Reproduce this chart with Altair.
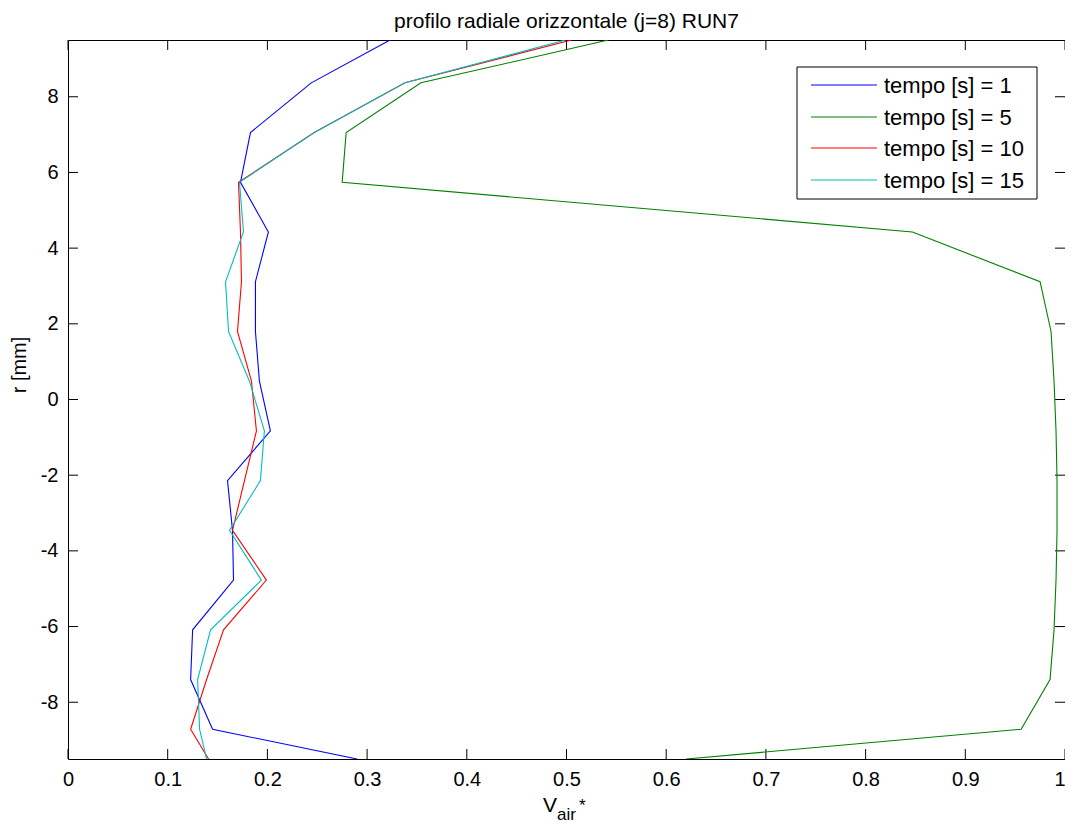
import altair as alt
import pandas as pd

# radial positions (mm) of the profile points (first/last = where lines meet the axes box)
r_levels = [9.5, 8.368, 7.054, 5.74, 4.426, 3.112, 1.798, 0.484, -0.83, -2.144,
            -3.458, -4.772, -6.086, -7.4, -8.714, -9.5]

v_t1 = [0.323, 0.244, 0.183, 0.173, 0.201, 0.188, 0.188, 0.192, 0.203, 0.160,
        0.165, 0.166, 0.125, 0.123, 0.145, 0.290]
v_t5 = [0.542, 0.354, 0.279, 0.275, 0.847, 0.975, 0.986, 0.989, 0.991, 0.992,
        0.992, 0.991, 0.989, 0.985, 0.956, 0.620]
v_t10 = [0.505, 0.338, 0.247, 0.171, 0.173, 0.174, 0.170, 0.184, 0.189, 0.177,
         0.165, 0.199, 0.156, 0.139, 0.123, 0.141]
v_t15 = [0.499, 0.338, 0.247, 0.172, 0.176, 0.158, 0.161, 0.182, 0.197, 0.193,
         0.162, 0.194, 0.143, 0.130, 0.132, 0.139]

series_names = ["tempo [s] = 1", "tempo [s] = 5", "tempo [s] = 10", "tempo [s] = 15"]
series_values = [v_t1, v_t5, v_t10, v_t15]
series_colors = ["#0000FF", "#008000", "#FF0000", "#00BFBF"]

x_ticks = [0, 0.1, 0.2, 0.3, 0.4, 0.5, 0.6, 0.7, 0.8, 0.9, 1.0]
y_ticks = [-8, -6, -4, -2, 0, 2, 4, 6, 8]

title_text = "profilo radiale orizzontale (j=8) RUN7"
ylabel_text = "r [mm]"

W, H = 997, 719
FONT = "Liberation Sans"

rows = []
for name, vals in zip(series_names, series_values):
    for i, (r, v) in enumerate(zip(r_levels, vals)):
        rows.append({"serie": name, "idx": i, "r": r, "v": v})
df = pd.DataFrame(rows)

xscale = alt.Scale(domain=[0, 1], nice=False, zero=False)
yscale = alt.Scale(domain=[-9.5, 9.5], nice=False, zero=False)

lines = alt.Chart(df).mark_line(strokeWidth=1.1, clip=True).encode(
    x=alt.X("v:Q", scale=xscale,
            axis=alt.Axis(values=x_ticks, title=None, ticks=False, domain=False,
                          grid=False, labelFontSize=20, labelFont=FONT,
                          labelColor="black", labelPadding=10, format="~g",
                          labelFlush=False,
                          labelAlign=alt.expr("datum.value >= 1 ? 'right' : 'center'"))),
    y=alt.Y("r:Q", scale=yscale,
            axis=alt.Axis(values=y_ticks, title=None, ticks=False, domain=False,
                          grid=False, labelFontSize=20, labelFont=FONT,
                          labelColor="black", labelPadding=10,
                          labelExpr="'' + datum.value")),
    color=alt.Color("serie:N",
                    scale=alt.Scale(domain=series_names, range=series_colors),
                    legend=None),
    order=alt.Order("idx:Q"),
)

xt = pd.DataFrame({"t": x_ticks})
yt = pd.DataFrame({"t": y_ticks})
tick_style = dict(color="black", strokeWidth=1)

tick_bottom = alt.Chart(xt).mark_rule(**tick_style).encode(
    x=alt.X("t:Q", scale=xscale), y=alt.value(H), y2=alt.value(H - 10))
tick_top = alt.Chart(xt).mark_rule(**tick_style).encode(
    x=alt.X("t:Q", scale=xscale), y=alt.value(0), y2=alt.value(10))
tick_left = alt.Chart(yt).mark_rule(**tick_style).encode(
    y=alt.Y("t:Q", scale=yscale), x=alt.value(0), x2=alt.value(10))
tick_right = alt.Chart(yt).mark_rule(**tick_style).encode(
    y=alt.Y("t:Q", scale=yscale), x=alt.value(W), x2=alt.value(W - 10))

title_mark = alt.Chart(pd.DataFrame({"t": [title_text]})).mark_text(
    font=FONT, fontSize=21, color="black", align="center", baseline="alphabetic"
).encode(text="t:N", x=alt.value(W / 2), y=alt.value(-12))

ylabel_mark = alt.Chart(pd.DataFrame({"t": [ylabel_text]})).mark_text(
    font=FONT, fontSize=20, color="black", align="center", baseline="middle",
    angle=270
).encode(text="t:N", x=alt.value(-48), y=alt.value(325))

xl_v = alt.Chart(pd.DataFrame({"t": ["V"]})).mark_text(
    font=FONT, fontSize=21, color="black", align="left", baseline="alphabetic"
).encode(text="t:N", x=alt.value(475), y=alt.value(772))
xl_air = alt.Chart(pd.DataFrame({"t": ["air"]})).mark_text(
    font=FONT, fontSize=17, color="black", align="left", baseline="alphabetic"
).encode(text="t:N", x=alt.value(489), y=alt.value(780))
xl_star = alt.Chart(pd.DataFrame({"t": ["*"]})).mark_text(
    font=FONT, fontSize=17, color="black", align="left", baseline="alphabetic"
).encode(text="t:N", x=alt.value(511), y=alt.value(771))

# manual legend (MATLAB-style box)
LX0, LX1, LY0, LY1 = 729, 969, 27, 159
row_y = [45, 77, 108, 140]
legend_box = alt.Chart(pd.DataFrame({"t": [0]})).mark_rect(
    fill="white", stroke="black", strokeWidth=1
).encode(x=alt.value(LX0), x2=alt.value(LX1), y=alt.value(LY0), y2=alt.value(LY1))

legend_layers = [legend_box]
for name, col, yy in zip(series_names, series_colors, row_y):
    ldf = pd.DataFrame({"t": [name]})
    legend_layers.append(
        alt.Chart(ldf).mark_rule(color=col, strokeWidth=1.2).encode(
            x=alt.value(743), x2=alt.value(809), y=alt.value(yy)))
    legend_layers.append(
        alt.Chart(ldf).mark_text(font=FONT, fontSize=22, color="black",
                                 align="left", baseline="middle").encode(
            text="t:N", x=alt.value(816), y=alt.value(yy + 1)))

chart = alt.layer(
    tick_bottom, tick_top, tick_left, tick_right, lines,
    title_mark, ylabel_mark, xl_v, xl_air, xl_star, *legend_layers
).properties(
    width=W, height=H,
    autosize=alt.AutoSizeParams(type="none"),
    padding={"left": 60, "top": 32, "right": 0, "bottom": 64},
    background="white",
).configure_view(
    stroke="black", strokeWidth=1
)

chart.save("out.html", embed_options={"renderer": "svg", "actions": False})
